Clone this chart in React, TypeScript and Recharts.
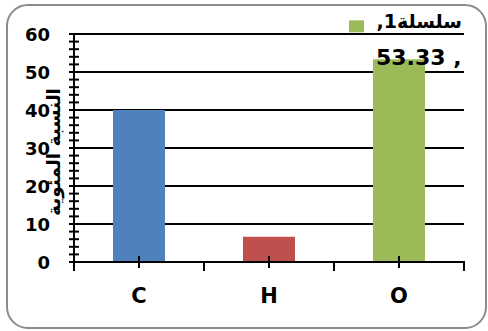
import React from 'react'
import { BarChart, Bar, XAxis, YAxis, CartesianGrid, Cell, LabelList } from 'recharts'

const elements = ['C', 'H', 'O']
const percentages = [40, 6.67, 53.33]
const barColors = ['#4F81BD', '#C0504D', '#9BBB59']
const gridValues = [10, 20, 30, 40, 50, 60]
const yMinorTicks = Array.from({ length: 31 }, (_, i) => i * 2)
const seriesName = 'سلسلة1'
const yTitle = 'النسبة المئوية'
const labelledElement = 'O'

const data = elements.map((name, i) => ({ name, value: percentages[i] }))

const FONT = "'DejaVu Sans', Arial, sans-serif"

const YTick = (props: any) => {
  const { x, y, payload } = props
  const major = payload.value % 10 === 0
  return (
    <g>
      <line x1={x - 5} x2={x + 5} y1={y} y2={y} stroke="#000" strokeWidth={2} />
      {major && (
        <text x={x - 24} y={y + 6.5} textAnchor="end" fontFamily={FONT} fontWeight="bold" fontSize={18} fill="#000">
          {payload.value}
        </text>
      )}
    </g>
  )
}

const XTick = (props: any) => {
  const { x, y, payload, index, visibleTicksCount } = props
  const half = payload.offset || 65
  const last = index === visibleTicksCount - 1
  return (
    <g>
      <line x1={x} x2={x} y1={y - 6} y2={y + 6} stroke="#000" strokeWidth={2} />
      <line x1={x - half} x2={x - half} y1={y - 1} y2={y + 9} stroke="#000" strokeWidth={2} />
      {last && <line x1={x + half} x2={x + half} y1={y - 1} y2={y + 9} stroke="#000" strokeWidth={2} />}
      <text x={x} y={y + 41} textAnchor="middle" fontFamily={FONT} fontWeight="bold" fontSize={21} fill="#000">
        {payload.value}
      </text>
    </g>
  )
}

// series name line is HTML so the comma / digit / arabic order comes out like the original
const ValueLabel = (props: any) => {
  const { x, y, width, value, index } = props
  if (data[index].name !== labelledElement) return null
  const cx = x + width / 2
  return (
    <g>
      <rect x={cx - 50} y={y - 39} width={15} height={12} fill={barColors[index]} />
      <foreignObject x={cx - 33} y={y - 58} width={96} height={30}>
        <div style={{
          display: 'flex', justifyContent: 'flex-end', alignItems: 'flex-end', height: 30,
          fontFamily: FONT, fontWeight: 'bold', fontSize: 19, lineHeight: 1, color: '#000'
        }}>
          <span>,</span>
          <span>{seriesName}</span>
        </div>
      </foreignObject>
      <text x={cx - 23} y={y + 6} textAnchor="start" fontFamily={FONT} fontWeight="bold" fontSize={22} fill="#000">
        {`${value} ,`}
      </text>
    </g>
  )
}

const YTitle = (props: any) => {
  const { viewBox } = props
  const cx = viewBox.x + 53
  const cy = viewBox.y + viewBox.height / 2 + 4
  return (
    <text x={cx} y={cy} transform={`rotate(-90 ${cx} ${cy})`} textAnchor="middle" dominantBaseline="central"
      fontFamily={FONT} fontWeight="bold" fontSize={18.5} fill="#000">
      {yTitle}
    </text>
  )
}

export default function App() {
  return (
    <div style={{ position: 'absolute', left: 0, top: 0, width: 488, height: 331, background: '#fff' }}>
      <div style={{
        position: 'absolute', left: 6, top: 4, width: 481, height: 325,
        border: '2px solid #8c8c8c', borderRadius: 22, boxSizing: 'border-box'
      }} />
      <div style={{ position: 'absolute', left: 0, top: 0 }}>
        <BarChart width={488} height={331} data={data} barCategoryGap="30%"
          margin={{ top: 34, right: 24, bottom: 29, left: 0 }}>
          <CartesianGrid vertical={false} horizontalValues={gridValues} stroke="#000" strokeWidth={2} />
          <XAxis dataKey="name" height={40} tickSize={0} tickMargin={0} tickLine={false}
            axisLine={{ stroke: '#000', strokeWidth: 2 }} tick={<XTick />} />
          <YAxis width={74} domain={[0, 60]} ticks={yMinorTicks} interval={0} tickSize={0} tickMargin={0}
            tickLine={false} axisLine={{ stroke: '#000', strokeWidth: 2 }} tick={<YTick />} label={<YTitle />} />
          <Bar dataKey="value" isAnimationActive={false}>
            {data.map((d, i) => (
              <Cell key={d.name} fill={barColors[i]} />
            ))}
            <LabelList dataKey="value" content={<ValueLabel />} />
          </Bar>
        </BarChart>
      </div>
    </div>
  )
}
